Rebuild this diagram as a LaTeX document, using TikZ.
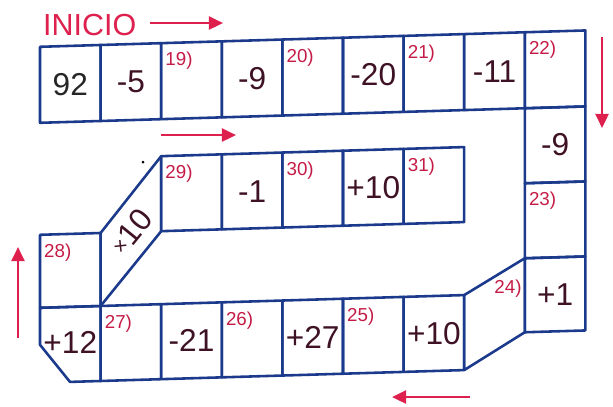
\documentclass[tikz,border=0pt]{standalone}
\usepackage{fontspec}
\setmainfont{Liberation Sans}
\usepackage{tikz}
\usetikzlibrary{arrows.meta}
\usepackage{xcolor}
\definecolor{boardblue}{RGB}{28, 58, 140}
\definecolor{signred}{RGB}{222, 32, 78}
\definecolor{tagred}{RGB}{196, 28, 70}
\definecolor{digitdark}{RGB}{62, 18, 36}

\begin{document}
\begin{tikzpicture}[x=0.03cm, y=-0.03cm,
    cell/.style={draw=boardblue, line width=2.2pt, line join=round},
    val/.style={text=digitdark, inner sep=0pt, font=\fontsize{27}{27}\selectfont},
    tag/.style={text=tagred, inner sep=0pt, anchor=north west, font=\fontsize{16}{16}\selectfont},
    way/.style={draw=signred, line width=2.5pt, -{Triangle[length=12pt, width=11pt]}}]
  \useasboundingbox (0,0) rectangle (613,406);
  \def\w{60.6}
  \def\xo{40}

  % board, skewed a little like the photo
  \begin{scope}[yslant=0.03]
    % top row (nine cells)
    \foreach \i in {0,...,8}
      \draw[cell] ({\xo+\i*\w},48) rectangle ({\xo+(\i+1)*\w},124);
    % right column going down
    \draw[cell] ({\xo+8*\w},124) rectangle ({\xo+9*\w},199);
    \draw[cell] ({\xo+8*\w},199) rectangle ({\xo+9*\w},274);
    \draw[cell] ({\xo+8*\w},274) rectangle ({\xo+9*\w},348);
    % bend into the bottom row
    \draw[cell] ({\xo+7*\w},309) -- ({\xo+8*\w},274) -- ({\xo+8*\w},348) -- ({\xo+7*\w},384) -- cycle;
    % bottom row, corner cell cut off
    \foreach \i in {1,...,6}
      \draw[cell] ({\xo+\i*\w},309) rectangle ({\xo+(\i+1)*\w},384);
    \draw[cell] (\xo,309) -- ({\xo+\w},309) -- ({\xo+\w},384) -- (70,384) -- (\xo,346) -- cycle;
    % up the left side, then the slanted cell
    \draw[cell] (\xo,236) rectangle ({\xo+\w},309);
    \draw[cell] ({\xo+\w},236) -- ({\xo+2*\w},161) -- ({\xo+2*\w},236) -- ({\xo+\w},309) -- cycle;
    % middle row
    \foreach \i in {2,...,6}
      \draw[cell] ({\xo+\i*\w},161) rectangle ({\xo+(\i+1)*\w},236);

    % numbers and question tags, top row
    \node[val, text=black!85] (t0) at ({\xo+0.5*\w},87) {92};
    \foreach \i/\txt in {1/-5, 3/-9, 5/-20, 7/-11}
      \node[val] (t\i) at ({\xo+(\i+0.5)*\w},86) {\txt};
    \foreach \i/\txt in {2/19, 4/20, 6/21, 8/22}
      \node[tag] (q\txt) at ({\xo+\i*\w+4},57) {\txt)};
    % right column
    \node[val] (r1) at ({\xo+8.5*\w},161.5) {-9};
    \node[tag] (q23) at ({\xo+8*\w+4},208) {23)};
    \node[val] (r3) at ({\xo+8.5*\w},311) {+1};
    \node[tag, anchor=north east] (q24) at ({\xo+8*\w-3},295) {24)};
    % bottom row
    \node[val] (b0) at ({\xo+0.5*\w},345) {+12};
    \foreach \i/\txt in {2/-21, 4/+27, 6/+10}
      \node[val] (b\i) at ({\xo+(\i+0.5)*\w},346.5) {\txt};
    \foreach \i/\txt in {1/27, 3/26, 5/25}
      \node[tag] (q\txt) at ({\xo+\i*\w+4},318) {\txt)};
    % left side and slanted cell
    \node[tag] (q28) at ({\xo+4},245) {28)};
    \node[val, rotate=51] (s1) at (131,235.5) {\raisebox{2.5pt}{\fontsize{18}{18}\selectfont ×}10};
    % middle row
    \foreach \i/\txt in {3/-1, 5/+10}
      \node[val] (m\i) at ({\xo+(\i+0.5)*\w},199) {\txt};
    \foreach \i/\txt in {2/29, 4/30, 6/31}
      \node[tag] (q\txt) at ({\xo+\i*\w+4},170) {\txt)};
  \end{scope}

  % start label and direction arrows
  \node[text=signred, anchor=base west, inner sep=0pt, font=\fontsize{26}{26}\selectfont] (start) at (43,35) {INICIO};
  \draw[way] (150,23) -- (223,23);
  \draw[way] (161,135) -- (236,135);
  \draw[way] (602,37) -- (602,128);
  \draw[way] (470,397) -- (392,397);
  \draw[way] (18,338) -- (18,247);
  \fill[black] (143,162) circle (1.5);
\end{tikzpicture}
\end{document}
